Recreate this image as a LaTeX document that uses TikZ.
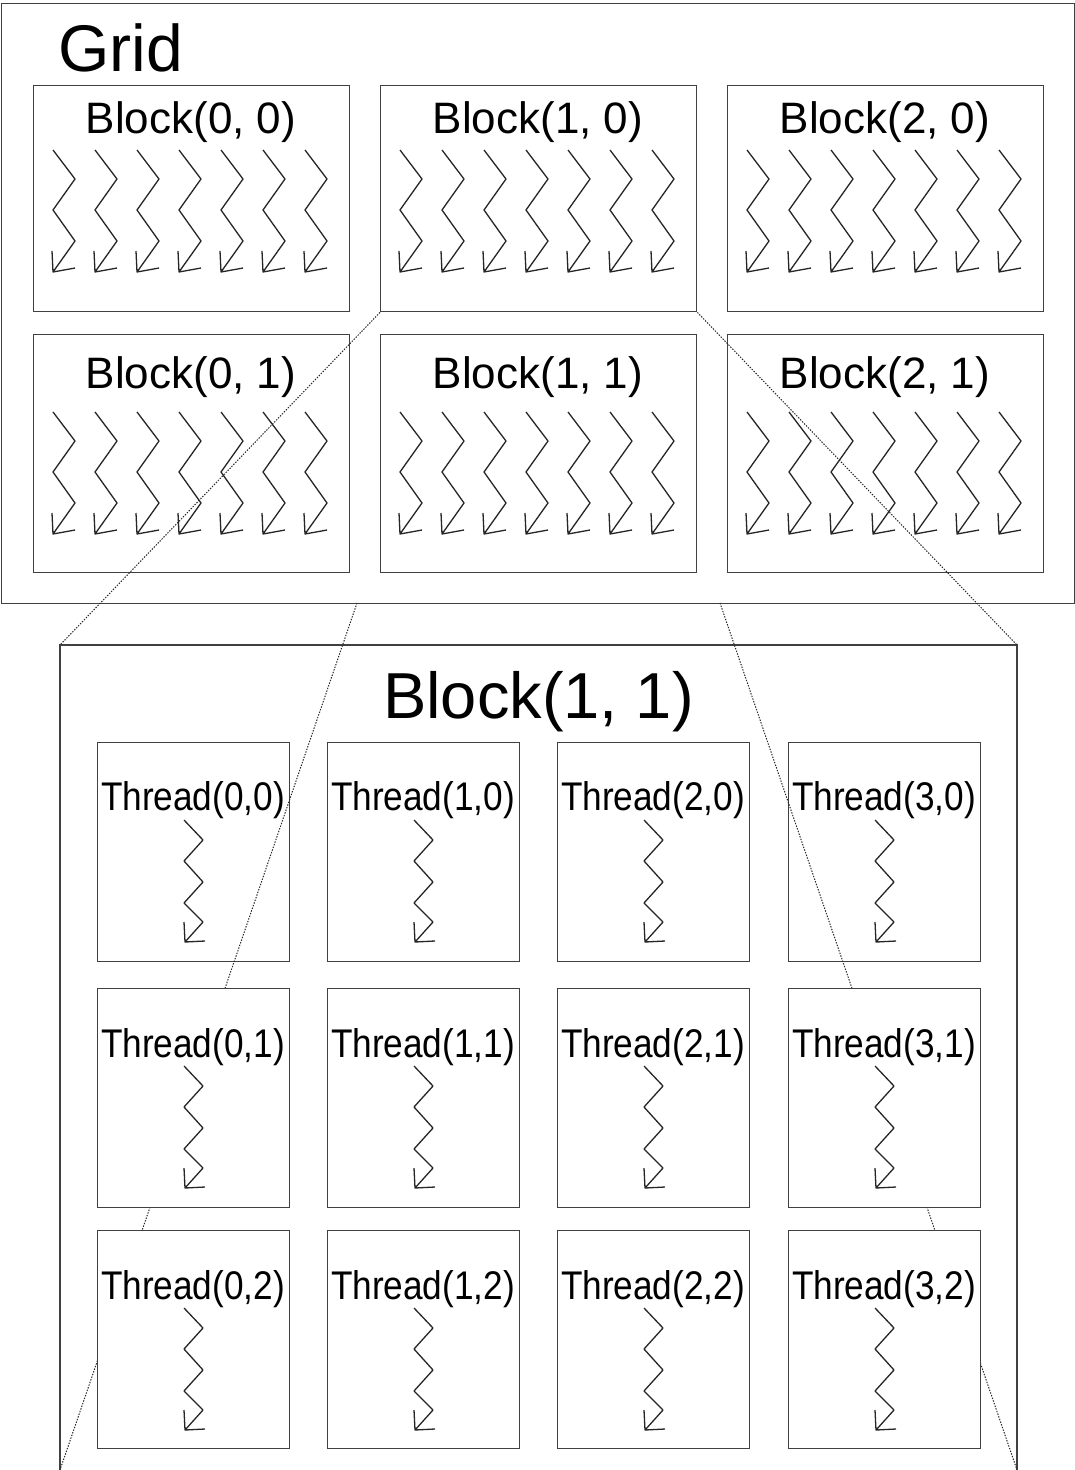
\documentclass[tikz,border=0pt]{standalone}
\usepackage{fontspec}
\setmainfont{Liberation Sans}
\newfontfamily\thfont[FakeStretch=0.88]{Liberation Sans}
\begin{document}
\begin{tikzpicture}[x=1pt,y=-1pt,
  box/.style={draw=black!75,line width=1.4pt,fill=white,inner sep=0pt},
  zig/.style={draw=black!85,line width=1.3pt,line join=round},
  dots/.style={draw=black!85,line width=1pt,dash pattern=on 1.4pt off 1.4pt},
  blabel/.style={anchor=base,inner sep=0pt,font=\fontsize{44}{50}\selectfont},
  tlabel/.style={anchor=base,inner sep=0pt,font=\thfont\fontsize{40}{46}\selectfont},
  bzig/.pic={\draw[zig] (0,0) -- (22,29) -- (0,60) -- (22,91) -- (0,122) -- (-1,101) (0,122) -- (22,118);},
  tzig/.pic={\draw[zig] (0,0) -- (19,20) -- (0,41) -- (19,62) -- (0,83) -- (19,102) -- (1,122) -- (0,102) (1,122) -- (21,121);}
]
\useasboundingbox[fill=white] (0,0) rectangle (1075,1470);

% Grid
\node[box,anchor=north west,minimum width=1073pt,minimum height=600pt] (grid) at (1,3) {};
\node[anchor=base west,inner sep=0pt,font=\fontsize{66}{72}\selectfont] (gridlabel) at (58,71) {Grid};

% Blocks
\foreach \c/\x in {0/33,1/380,2/727}{
  \node[box,anchor=north west,minimum width=316pt,minimum height=226pt] (b\c0) at (\x,85) {};
  \node[blabel] (lb\c0) at (\x+158,133) {Block(\c, 0)};
  \foreach \k in {0,...,6}{\pic at (\x+20+42*\k,150) {bzig};}
  \node[box,anchor=north west,minimum width=316pt,minimum height=238pt] (b\c1) at (\x,334) {};
  \node[blabel] (lb\c1) at (\x+158,388) {Block(\c, 1)};
  \foreach \k in {0,...,6}{\pic at (\x+20+42*\k,412) {bzig};}
}

% Enlarged block frame
\coordinate (ftl) at (60,645);
\coordinate (ftr) at (1017,645);
\coordinate (fbl) at (60,1476);
\coordinate (fbr) at (1017,1476);
\coordinate (fbl2) at (60,1470);
\coordinate (fbr2) at (1017,1470);
\draw[box,fill=none] (fbl) -- (ftl) -- (ftr) -- (fbr);
\node[anchor=base,inner sep=0pt,font=\fontsize{65}{72}\selectfont] (bigtitle) at (538.5,718) {Block(1, 1)};

% Thread row 0
\foreach \c/\x in {0/97,1/327,2/557,3/788}{
  \node[box,anchor=north west,minimum width=192pt,minimum height=219pt] (t\c0) at (\x,742) {};
  \node[tlabel] (lt\c0) at (\x+96,810) {Thread(\c,0)};
  \pic at (\x+87,820) {tzig};
}

% perspective lines (lower)
\coordinate (g1) at (357,603);
\coordinate (g2) at (720,603);
\draw[dots] (g1) -- (fbl2);
\draw[dots] (g2) -- (fbr2);

% Thread rows 1 and 2
\foreach \r/\y/\h in {1/988/219,2/1230/218}{
  \foreach \c/\x in {0/97,1/327,2/557,3/788}{
    \node[box,anchor=north west,minimum width=192pt,minimum height=\h pt] (t\c\r) at (\x,\y) {};
    \node[tlabel] (lt\c\r) at (\x+96,\y+69) {Thread(\c,\r)};
    \pic at (\x+87,\y+78) {tzig};
  }
}

% perspective lines (upper)
\draw[dots] (b10.south west) -- (ftl);
\draw[dots] (b10.south east) -- (ftr);
\end{tikzpicture}
\end{document}
